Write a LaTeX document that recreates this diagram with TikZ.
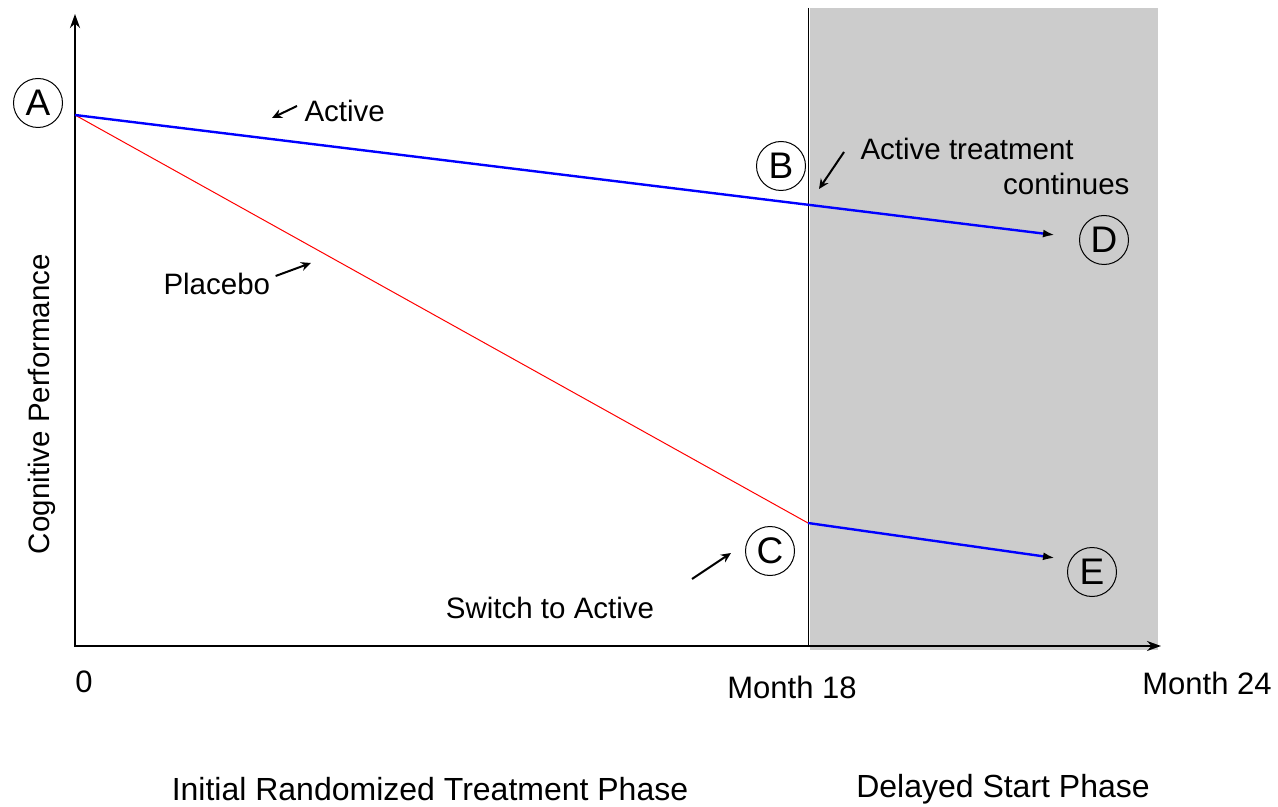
\documentclass[tikz,border=0pt]{standalone}
\usepackage{fontspec}
\setmainfont{Liberation Sans}
\usetikzlibrary{arrows.meta}

\begin{document}
\begin{tikzpicture}[x=0.5pt, y=-0.5pt, line width=0.5pt,
  lbl/.style={font=\fontsize{14.75}{17}\selectfont, inner sep=0pt},
  ticklbl/.style={font=\fontsize{15.5}{18}\selectfont, inner sep=0pt},
  phaselbl/.style={font=\fontsize{16}{19}\selectfont, inner sep=0pt, anchor=base},
  ptcircle/.style={circle, draw, line width=0.5pt, minimum size=24.5pt, inner sep=0pt, font=\fontsize{18.5}{20}\selectfont},
  ptr/.style={-{Stealth[length=5pt, width=4.5pt]}, line width=1pt},
  trend/.style={blue, line width=1.2pt, -{Latex[black, length=6pt, width=4pt]}}]
  \useasboundingbox (0,0) rectangle (1278,807);
  % delayed start phase
  \fill[gray!40] (810,8) rectangle (1158,650);
  \draw (808,8) -- (808,646);
  \draw[-{Stealth[length=7pt, width=5pt]}, line width=1.3pt] (75,646) -- (75,14);
  \draw[-{Stealth[length=7pt, width=5pt]}, line width=1.3pt] (74,646) -- (1161,646);
  \coordinate (start) at (75,115);
  \coordinate (switch) at (808,523);
  \coordinate (endD) at (1055,235);
  \coordinate (endE) at (1055,558);
  \draw[red] (start) -- (switch);
  \draw[trend] (start) -- (endD);
  \draw[trend] (switch) -- (endE);
  \node[ptcircle] (A) at (38,103) {A};
  \node[ptcircle] (B) at (781,166) {B};
  \node[ptcircle] (C) at (770,551) {C};
  \node[ptcircle] (D) at (1104,240) {D};
  \node[ptcircle] (E) at (1092,572) {E};
  \node[lbl, anchor=west] (active) at (304,111) {Active};
  \node[lbl, anchor=west] (placebo) at (163,284) {Placebo};
  \node[lbl, anchor=west] (acttr) at (860,149) {Active treatment};
  \node[lbl, anchor=east] (cont) at (1130,184) {continues};
  \node[lbl] (swlbl) at (550,608) {Switch to Active};
  \node[ticklbl] (t0) at (84,682) {0};
  \node[ticklbl] (m18) at (792,687) {Month 18};
  \node[ticklbl] (m24) at (1207,683) {Month 24};
  \node[lbl, rotate=90] (ylab) at (42,404) {Cognitive Performance};
  \node[phaselbl] (ph1) at (430,800) {Initial Randomized Treatment Phase};
  \node[phaselbl] (ph2) at (1003,797) {Delayed Start Phase};
  % pointers
  \draw[ptr] ([shift={(-7,-5)}]active.west) -- (272,118);
  \draw[ptr] ([shift={(5,-8)}]placebo.east) -- (311,263);
  \draw[ptr] ([shift={(-16,3)}]acttr.west) -- (819,189);
  \draw[ptr] ([shift={(-53,28)}]C.west) -- ([shift={(-14,2)}]C.west);
\end{tikzpicture}
\end{document}
